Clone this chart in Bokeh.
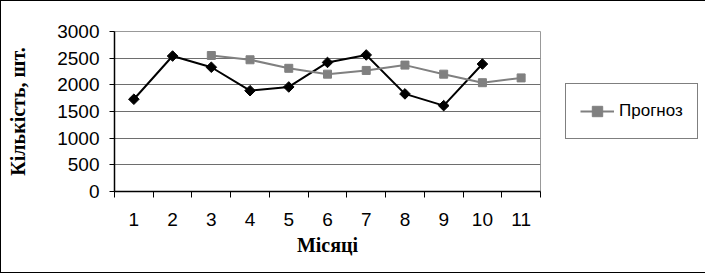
import math
from bokeh.plotting import figure
from bokeh.models import Range1d, FixedTicker, Legend, LegendItem
from bokeh.embed import file_html
from bokeh.resources import INLINE

months = [1, 2, 3, 4, 5, 6, 7, 8, 9, 10, 11]
actual_months = [1, 2, 3, 4, 5, 6, 7, 8, 9, 10]
actual = [1730, 2540, 2330, 1890, 1960, 2420, 2560, 1830, 1610, 2390]
forecast_months = [3, 4, 5, 6, 7, 8, 9, 10, 11]
forecast = [2550, 2470, 2310, 2200, 2270, 2370, 2200, 2040, 2130]
y_ticks = [0, 500, 1000, 1500, 2000, 2500, 3000]

p = figure(width=703, height=271, output_backend="svg", toolbar_location=None,
           x_range=Range1d(0.5, 11.5), y_range=Range1d(0, 3000),
           min_border_left=113, min_border_right=163, min_border_top=30, min_border_bottom=81,
           styles={"border": "1px solid black"})
p.frame_width = 426
p.frame_height = 160

p.background_fill_color = "white"
p.border_fill_color = "white"
p.outline_line_color = "#999999"
p.outline_line_width = 1

p.xgrid.grid_line_color = None
p.ygrid.ticker = FixedTicker(ticks=y_ticks)
p.ygrid.grid_line_color = "#6e6e6e"
p.ygrid.grid_line_width = 1

xa = p.xaxis[0]
xa.ticker = FixedTicker(ticks=months, minor_ticks=[m - 0.5 for m in months] + [months[-1] + 0.5])
xa.major_tick_line_color = None
xa.major_tick_out = 0
xa.major_tick_in = 0
xa.minor_tick_line_color = "black"
xa.minor_tick_out = 6
xa.minor_tick_in = 0
xa.axis_line_color = "black"
xa.axis_line_width = 1.5
xa.major_label_text_font = "Liberation Sans"
xa.major_label_text_font_size = "19px"
xa.major_label_text_color = "black"
xa.major_label_standoff = 15
xa.axis_label = "Місяці"
xa.axis_label_text_font = "Liberation Serif"
xa.axis_label_text_font_style = "bold"
xa.axis_label_text_font_size = "20px"
xa.axis_label_text_color = "black"
xa.axis_label_standoff = 5

ya = p.yaxis[0]
ya.ticker = FixedTicker(ticks=y_ticks)
ya.minor_tick_line_color = None
ya.major_tick_line_color = "black"
ya.major_tick_out = 5
ya.major_tick_in = 0
ya.axis_line_color = "black"
ya.axis_line_width = 1.5
ya.major_label_text_font = "Liberation Sans"
ya.major_label_text_font_size = "19px"
ya.major_label_text_color = "black"
ya.major_label_standoff = 10
ya.axis_label = "Кількість, шт."
ya.axis_label_text_font = "Liberation Serif"
ya.axis_label_text_font_style = "bold"
ya.axis_label_text_font_size = "20px"
ya.axis_label_text_color = "black"
ya.axis_label_standoff = 25

p.line(actual_months, actual, line_color="black", line_width=2)
p.scatter(actual_months, actual, marker="square", angle=math.pi / 4, size=7.5,
          fill_color="black", line_color="black")

fl = p.line(forecast_months, forecast, line_color="#808080", line_width=2)
fs = p.scatter(forecast_months, forecast, marker="square", size=8, fill_color="#808080", line_color="#808080")

legend = Legend(items=[LegendItem(label="Прогноз", renderers=[fl, fs])],
                location=(25, 52), orientation="vertical",
                border_line_color="black", border_line_width=1,
                background_fill_color="white", background_fill_alpha=1,
                label_text_font="Liberation Sans", label_text_font_size="17px",
                label_text_color="black", glyph_width=34, glyph_height=26,
                label_height=26, label_standoff=5, padding=14, margin=0, spacing=0)
p.add_layout(legend, "right")

open("out.html", "w").write(file_html(p, INLINE))
